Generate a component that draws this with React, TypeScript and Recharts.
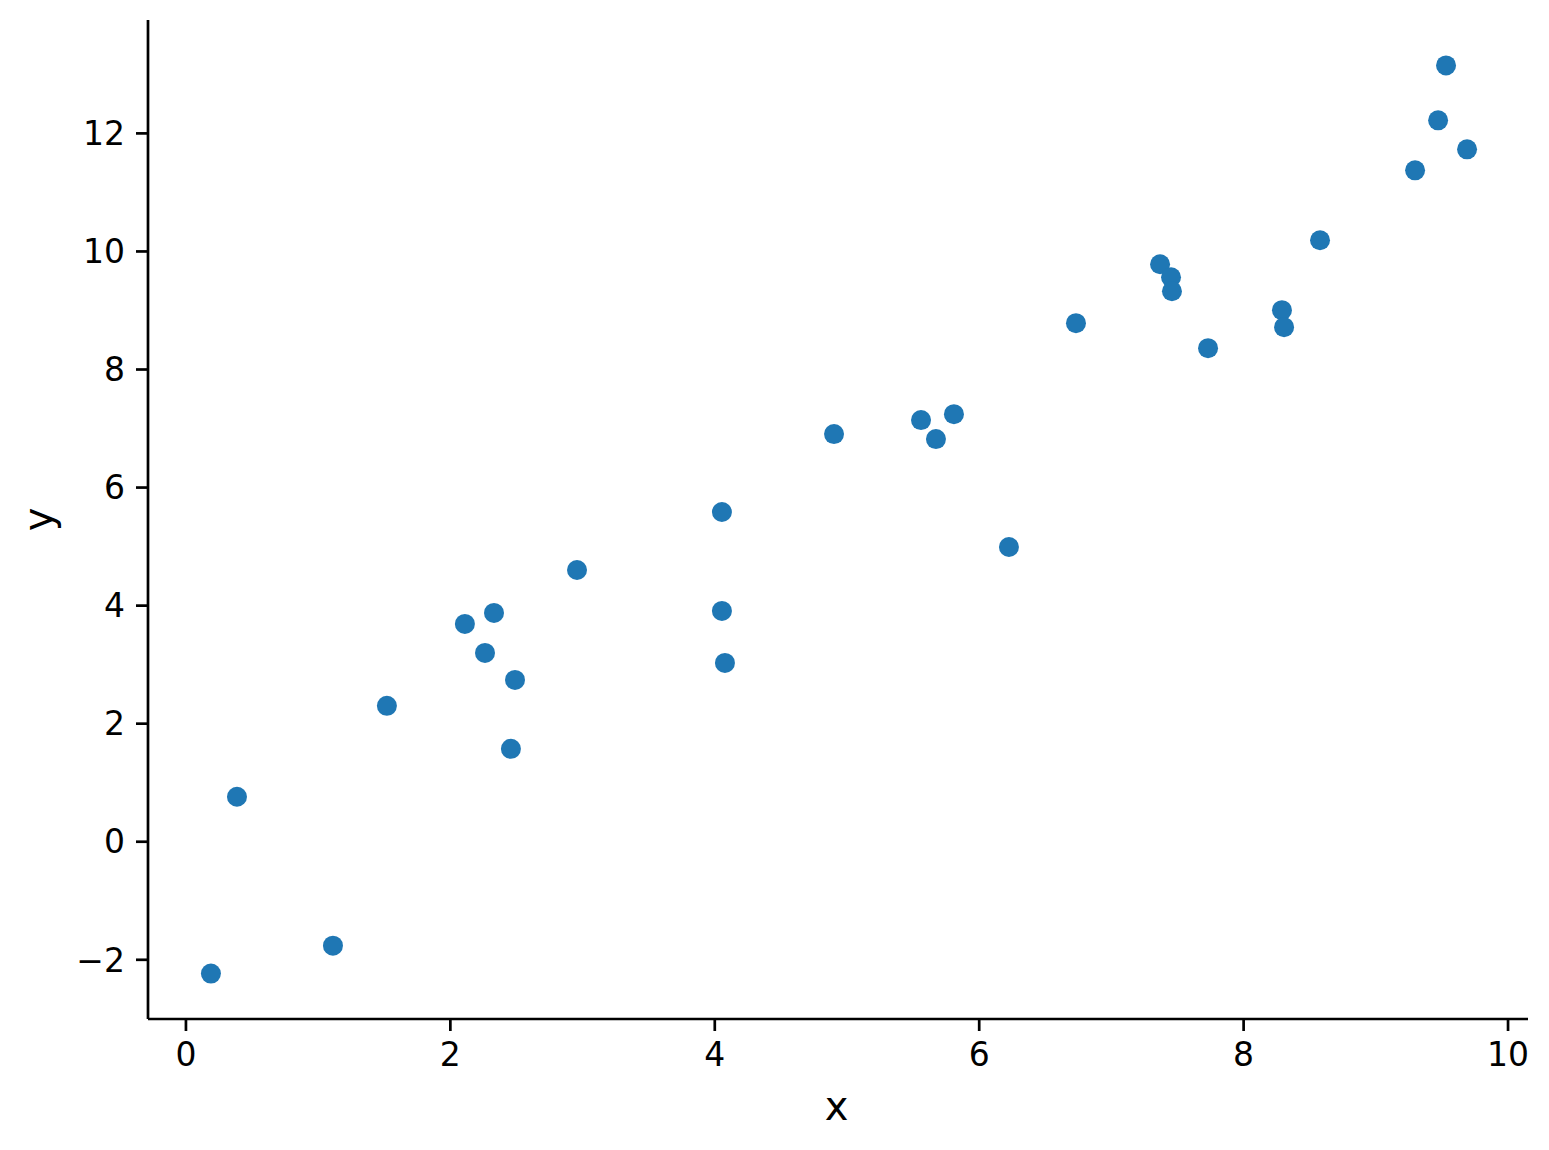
import { ScatterChart, Scatter, XAxis, YAxis, Label } from "recharts"

const xValues = [
  0.189, 0.386, 1.112, 1.52, 2.11, 2.262, 2.33, 2.458, 2.489, 2.958,
  4.054, 4.054, 4.077, 4.902, 5.56, 5.673, 5.809, 6.225, 6.732, 7.368,
  7.451, 7.458, 7.731, 8.29, 8.306, 8.578, 9.297, 9.471, 9.531, 9.69,
]
const yValues = [
  -2.234, 0.762, -1.76, 2.302, 3.69, 3.199, 3.876, 1.574, 2.742, 4.604,
  5.586, 3.91, 3.03, 6.906, 7.143, 6.821, 7.244, 4.993, 8.785, 9.783,
  9.563, 9.326, 8.362, 9.005, 8.717, 10.19, 11.374, 12.221, 13.152, 11.73,
]
const xTicks = [0, 2, 4, 6, 8, 10]
const yTicks = [-2, 0, 2, 4, 6, 8, 10, 12]

const points = xValues.map((x, i) => ({ x, y: yValues[i] }))

const font = "DejaVu Sans"
const tickStyle = { fontSize: 33, fontFamily: font, fill: "#000" }
const fmt = (v: number) => (v < 0 ? "\u2212" + Math.abs(v) : String(v))

export default function App() {
  return (
    <ScatterChart width={1541} height={1142} margin={{ top: 12, right: 21, left: 0, bottom: 0 }}>
      <XAxis
        type="number"
        dataKey="x"
        domain={[-0.287, 10.151]}
        ticks={xTicks}
        allowDataOverflow
        tickFormatter={fmt}
        tick={tickStyle}
        tickSize={12}
        tickMargin={12}
        height={131}
        axisLine={{ stroke: "#000", strokeWidth: 2.7 }}
        tickLine={{ stroke: "#000", strokeWidth: 2.7 }}
      >
        <Label
          content={(props: any) => {
            const vb = props.viewBox
            return (
              <text x={vb.x + vb.width / 2 - 1.5} y={vb.y + 101} textAnchor="middle" fontSize={40} fontFamily={font} fill="#000">
                x
              </text>
            )
          }}
        />
      </XAxis>
      <YAxis
        type="number"
        dataKey="y"
        domain={[-3.003, 13.921]}
        ticks={yTicks}
        allowDataOverflow
        tickFormatter={fmt}
        tick={tickStyle}
        tickSize={12}
        tickMargin={11}
        width={140}
        axisLine={{ stroke: "#000", strokeWidth: 2.7 }}
        tickLine={{ stroke: "#000", strokeWidth: 2.7 }}
      >
        <Label
          content={(props: any) => {
            const vb = props.viewBox
            const cx = 44
            const cy = vb.y + vb.height / 2
            return (
              <text x={cx} y={cy} textAnchor="middle" transform={`rotate(-90 ${cx} ${cy})`} fontSize={40} fontFamily={font} fill="#000">
                y
              </text>
            )
          }}
        />
      </YAxis>
      <Scatter
        data={points}
        isAnimationActive={false}
        shape={(p: any) => <circle cx={p.cx} cy={p.cy} r={10} fill="#1f77b4" />}
      />
    </ScatterChart>
  )
}
